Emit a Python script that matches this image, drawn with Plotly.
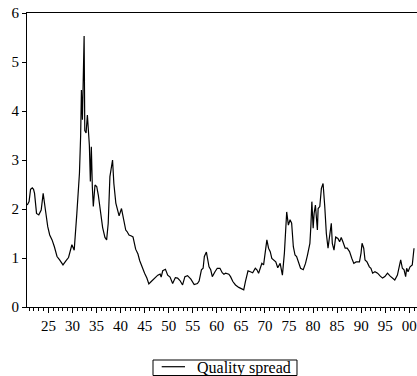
import plotly.graph_objects as go

years = [1920.61, 1920.98, 1921.29, 1921.64, 1921.91, 1922.12, 1922.53, 1923.00, 1923.50, 1923.91,
         1924.38, 1924.86, 1925.27, 1925.76, 1926.24, 1926.79, 1927.33, 1928.03, 1928.71, 1929.18,
         1929.88, 1930.36, 1930.91, 1931.45, 1931.70, 1931.86, 1932.07, 1932.42, 1932.56, 1932.83,
         1933.10, 1933.30, 1933.51, 1933.72, 1933.92, 1934.13, 1934.33, 1934.68, 1935.04, 1935.36,
         1935.72, 1936.27, 1936.75, 1937.10, 1937.43, 1937.78, 1938.33, 1938.60, 1939.01, 1939.28,
         1939.69, 1940.19, 1940.52, 1941.07, 1941.34, 1941.75, 1942.25, 1942.58, 1943.13, 1943.61,
         1943.96, 1944.51, 1944.99, 1945.46, 1945.87, 1946.37, 1947.05, 1947.73, 1948.22, 1948.43,
         1948.76, 1949.32, 1949.79, 1950.28, 1950.82, 1951.38, 1951.85, 1952.34, 1952.88, 1953.37,
         1953.91, 1954.61, 1955.29, 1955.97, 1956.32, 1956.80, 1957.15, 1957.41, 1957.83, 1958.11,
         1958.38, 1958.73, 1959.06, 1959.62, 1960.09, 1960.65, 1961.12, 1961.47, 1961.82, 1962.50,
         1962.85, 1963.33, 1963.88, 1964.56, 1965.12, 1965.59, 1965.94, 1966.48, 1966.97, 1967.45,
         1968.00, 1968.33, 1968.68, 1969.04, 1969.36, 1969.72, 1970.07, 1970.40, 1970.75, 1971.10,
         1971.43, 1971.78, 1972.25, 1972.66, 1973.16, 1973.63, 1974.04, 1974.52, 1974.87, 1975.22,
         1975.55, 1975.90, 1976.25, 1976.58, 1976.93, 1977.40, 1977.96, 1978.43, 1978.84, 1979.34,
         1979.54, 1979.75, 1980.02, 1980.22, 1980.49, 1980.70, 1980.90, 1981.05, 1981.40, 1981.73,
         1982.08, 1982.43, 1982.76, 1983.11, 1983.46, 1983.79, 1984.00, 1984.35, 1984.70, 1985.17,
         1985.52, 1985.85, 1986.20, 1986.67, 1987.09, 1987.58, 1988.06, 1988.47, 1988.94, 1989.64,
         1989.97, 1990.18, 1990.53, 1990.80, 1991.21, 1991.70, 1992.03, 1992.38, 1992.86, 1993.41,
         1993.97, 1994.44, 1994.92, 1995.47, 1996.03, 1996.50, 1996.98, 1997.53, 1997.88, 1998.21,
         1998.56, 1998.91, 1999.24, 1999.45, 1999.74, 2000.15, 2000.62, 2000.98]

quality_spread = [2.08, 2.15, 2.40, 2.43, 2.40, 2.32, 1.91, 1.88, 1.98, 2.32,
                  1.98, 1.64, 1.47, 1.37, 1.23, 1.03, 0.96, 0.86, 0.95, 1.01,
                  1.27, 1.16, 1.91, 2.73, 3.50, 4.43, 3.82, 5.53, 3.60, 3.55,
                  3.92, 3.68, 3.30, 2.56, 3.27, 2.45, 2.05, 2.49, 2.46, 2.29,
                  1.98, 1.62, 1.42, 1.37, 1.71, 2.66, 3.00, 2.52, 2.12, 2.00,
                  1.86, 2.01, 1.85, 1.57, 1.54, 1.47, 1.45, 1.43, 1.18, 1.08,
                  0.95, 0.79, 0.69, 0.59, 0.47, 0.52, 0.59, 0.65, 0.67, 0.61,
                  0.74, 0.77, 0.65, 0.61, 0.48, 0.60, 0.59, 0.54, 0.45, 0.62,
                  0.64, 0.57, 0.46, 0.48, 0.53, 0.76, 0.79, 1.03, 1.12, 0.96,
                  0.82, 0.76, 0.62, 0.72, 0.79, 0.79, 0.70, 0.67, 0.69, 0.67,
                  0.62, 0.52, 0.45, 0.40, 0.37, 0.35, 0.52, 0.74, 0.72, 0.70,
                  0.79, 0.76, 0.69, 0.82, 0.89, 0.86, 1.10, 1.37, 1.20, 1.13,
                  0.99, 0.96, 0.92, 0.80, 0.89, 0.65, 1.10, 1.94, 1.67, 1.78,
                  1.71, 1.23, 1.06, 1.03, 0.92, 0.79, 0.76, 0.89, 1.06, 1.30,
                  1.64, 2.15, 1.61, 1.91, 2.08, 1.84, 1.57, 2.01, 2.05, 2.42,
                  2.52, 2.05, 1.50, 1.20, 1.43, 1.71, 1.30, 1.16, 1.43, 1.40,
                  1.33, 1.42, 1.33, 1.20, 1.20, 1.13, 0.99, 0.89, 0.92, 0.92,
                  1.10, 1.30, 1.20, 0.96, 0.92, 0.82, 0.79, 0.69, 0.72, 0.69,
                  0.63, 0.59, 0.62, 0.69, 0.63, 0.59, 0.55, 0.65, 0.82, 0.96,
                  0.79, 0.76, 0.62, 0.79, 0.72, 0.82, 0.86, 1.20]

x_tick_vals = [1925, 1930, 1935, 1940, 1945, 1950, 1955, 1960, 1965, 1970, 1975, 1980, 1985, 1990, 1995, 2000]
x_tick_text = ["25", "30", "35", "40", "45", "50", "55", "60", "65", "70", "75", "80", "85", "90", "95", "00"]
y_tick_vals = [0, 1, 2, 3, 4, 5, 6]
series_name = "Quality spread"

FONT = "Liberation Serif, Times New Roman, Times, serif"

fig = go.Figure()
fig.add_trace(go.Scatter(
    x=years, y=quality_spread, mode="lines", name=series_name,
    line=dict(color="black", width=1.2), showlegend=False,
))

# Legend box drawn as layout decoration (EViews-style compact legend)
fig.add_shape(type="rect", xref="paper", yref="paper",
              x0=0.3231, x1=0.6923, y0=-0.2330, y1=-0.1803,
              line=dict(color="black", width=1), fillcolor="white")
fig.add_shape(type="line", xref="paper", yref="paper",
              x0=0.3454, x1=0.4051, y0=-0.2031, y1=-0.2031,
              line=dict(color="black", width=1.2))
fig.add_annotation(text=series_name, xref="paper", yref="paper",
                   x=0.431, y=-0.2085, xanchor="left", yanchor="middle",
                   showarrow=False,
                   font=dict(family=FONT, size=16, color="black"))

fig.update_layout(
    width=417, height=376,
    margin=dict(l=27, r=0, t=13, b=69, autoexpand=False),
    paper_bgcolor="white", plot_bgcolor="white",
    font=dict(family=FONT, size=15, color="black"),
    showlegend=False,
    xaxis=dict(
        range=[1920.55, 2001.6], showgrid=False, zeroline=False,
        showline=True, linecolor="black", linewidth=1, mirror=True,
        ticks="outside", ticklen=5, tickcolor="black", tickwidth=1,
        tickvals=x_tick_vals, ticktext=x_tick_text,
        tickfont=dict(family=FONT, size=15, color="black"),
        ticklabeloverflow="allow",
        minor=dict(dtick=1, tick0=1920, ticks="outside", ticklen=3,
                   tickcolor="black", tickwidth=1, showgrid=False),
    ),
    yaxis=dict(
        range=[0, 6], showgrid=False, zeroline=False,
        showline=True, linecolor="black", linewidth=1,
        ticks="outside", ticklen=4, tickcolor="black", tickwidth=1,
        tickvals=y_tick_vals,
        tickfont=dict(family=FONT, size=15, color="black"),
    ),
)

fig.write_html("out.html")
